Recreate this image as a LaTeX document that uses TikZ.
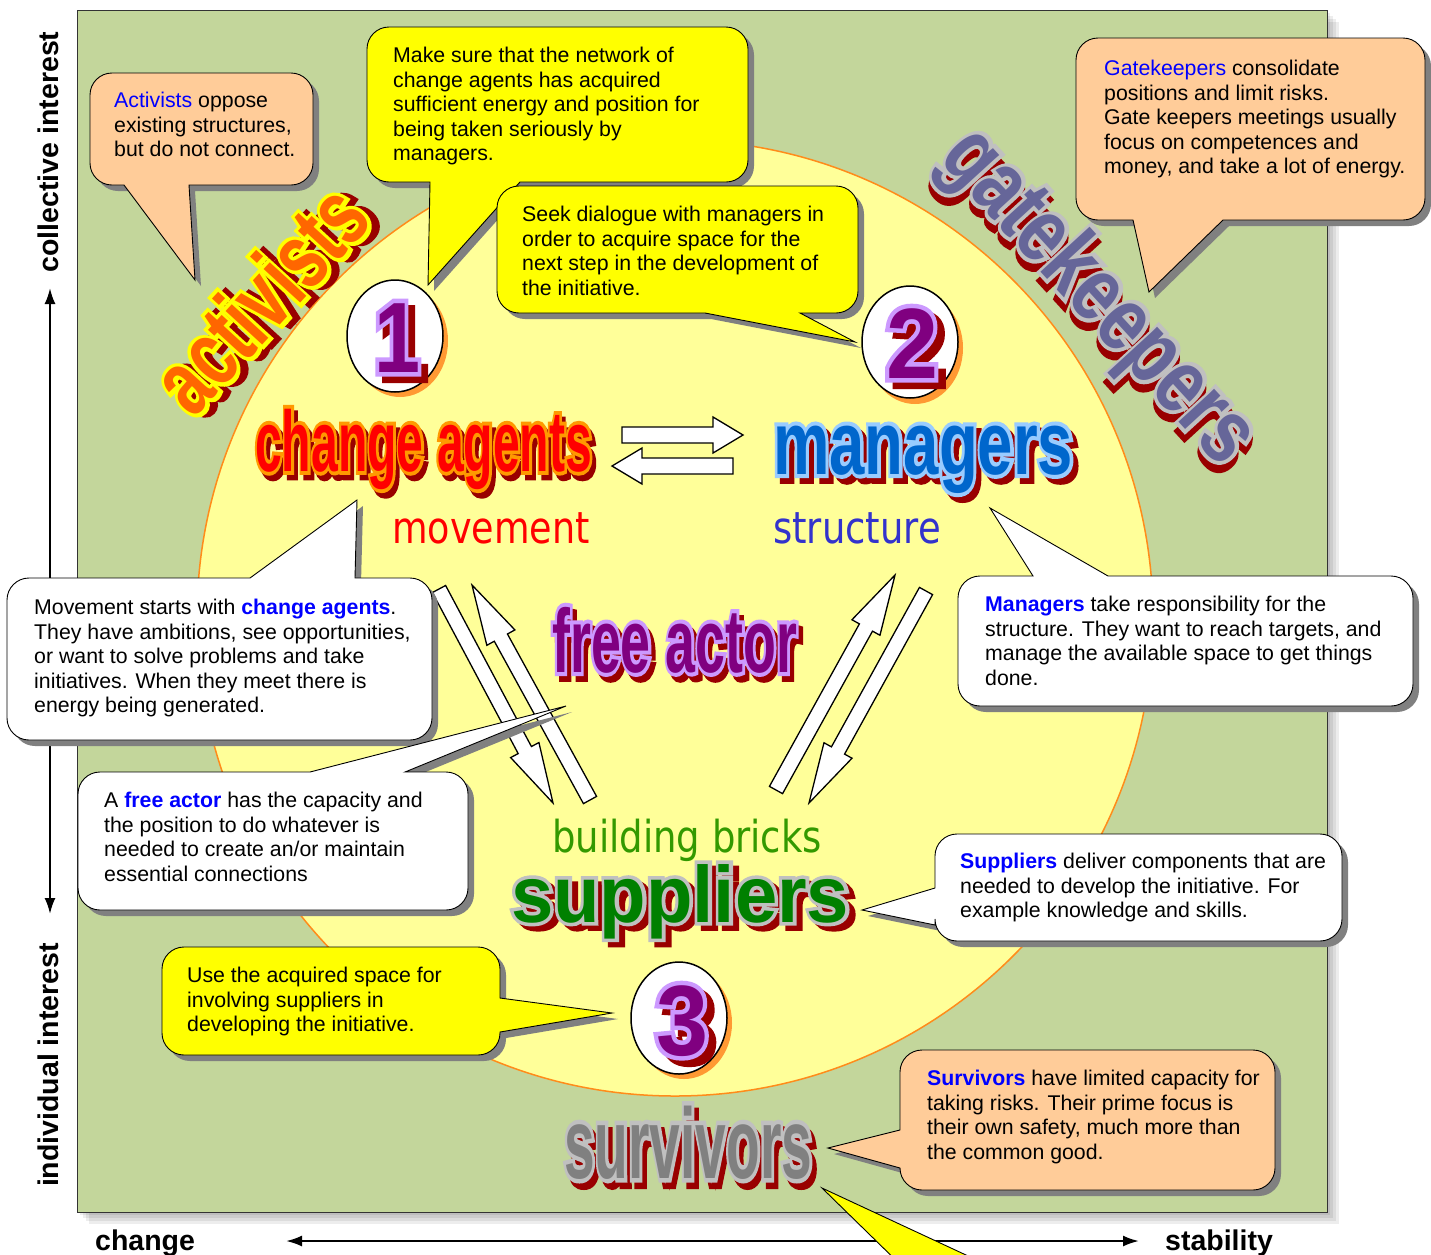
\documentclass[tikz,border=0pt]{standalone}
\usepackage{fontspec}
\usepackage{graphicx}
\usetikzlibrary{calc,arrows.meta,shapes.geometric}
\setmainfont{Liberation Sans}
\newfontfamily\waF{Liberation Sans}
\newfontfamily\waFO{Liberation Sans}[BoldFeatures={FakeBold=9}]
\newfontfamily\lblF{DejaVu Sans}

\definecolor{bggreen}{HTML}{C3D69B}
\definecolor{circfill}{HTML}{FFFF99}
\definecolor{circline}{HTML}{FF8C1A}
\definecolor{peach}{HTML}{FFCC99}
\definecolor{yel}{HTML}{FFFF00}
\definecolor{shgrey}{HTML}{808080}
\definecolor{wared}{HTML}{990000}
\definecolor{numshadow}{HTML}{FF9933}
\definecolor{hl}{HTML}{0000FF}
\definecolor{actF}{HTML}{FF6600}
\definecolor{actO}{HTML}{FFFF00}
\definecolor{chgF}{HTML}{FF0000}
\definecolor{chgO}{HTML}{FF9900}
\definecolor{manF}{HTML}{0066CC}
\definecolor{manO}{HTML}{99CCFF}
\definecolor{purF}{HTML}{800080}
\definecolor{purO}{HTML}{CC99FF}
\definecolor{supF}{HTML}{008000}
\definecolor{silO}{HTML}{C0C0C0}
\definecolor{surF}{HTML}{808080}
\definecolor{gateF}{HTML}{666699}
\definecolor{structC}{HTML}{3333CC}
\definecolor{brickC}{HTML}{339900}

% word-art text: width, size, fill, outline, text
\newcommand\WA[5]{%
  \resizebox{#1}{\height}{\fontsize{#2}{#2}\selectfont
    \rlap{\kern0.08em\raisebox{-0.065em}{\color{wared}\waFO\bfseries #5}}%
    \rlap{\color{#4}\waFO\bfseries #5}%
    {\color{#3}\waF\bfseries #5}}}

% callout: style, x1, y1, x2, y2, top insert, right insert, bottom insert, left insert
\newcommand\callout[9]{%
  \fill[shgrey,shift={(6,6)}] (#2+22,#3) #6 -- (#4-22,#3) arc[start angle=90,end angle=0,radius=22pt] #7 -- (#4,#5-22) arc[start angle=0,end angle=-90,radius=22pt] #8 -- (#2+22,#5) arc[start angle=-90,end angle=-180,radius=22pt] #9 -- (#2,#3+22) arc[start angle=180,end angle=90,radius=22pt] -- cycle;
  \filldraw[#1] (#2+22,#3) #6 -- (#4-22,#3) arc[start angle=90,end angle=0,radius=22pt] #7 -- (#4,#5-22) arc[start angle=0,end angle=-90,radius=22pt] #8 -- (#2+22,#5) arc[start angle=-90,end angle=-180,radius=22pt] #9 -- (#2,#3+22) arc[start angle=180,end angle=90,radius=22pt] -- cycle;
}

% block arrow: from, tip, shaft half width, head half width, head length
\newcommand\blockarrow[5]{%
  \coordinate (ba) at ($(#2)!#5!(#1)$);
  \filldraw[fill=white,draw=black,line width=1.3pt,line join=miter]
    ($(#1)!#3!90:(#2)$) -- ($(ba)!#3!90:(#2)$) -- ($(ba)!#4!90:(#2)$) -- (#2)
    -- ($(ba)!#4!-90:(#2)$) -- ($(ba)!#3!-90:(#2)$) -- ($(#1)!#3!-90:(#2)$) -- cycle;
}

\tikzset{
  txt/.style={inner sep=0pt, anchor=north west, align=left, font=\fontsize{21.3}{24.5}\selectfont},
  peachbox/.style={fill=peach, draw=black, line width=0.9pt, line join=miter},
  yelbox/.style={fill=yel, draw=black, line width=0.9pt, line join=miter},
  whitebox/.style={fill=white, draw=black, line width=0.9pt, line join=miter},
  axis/.style={line width=2.2pt, {Latex[length=16pt,width=11pt]}-{Latex[length=16pt,width=11pt]}},
  axislbl/.style={inner sep=0pt, font=\fontsize{28.5}{30}\selectfont\bfseries},
  lbl/.style={inner sep=0pt, anchor=base west, font=\lblF\fontsize{44}{48}\selectfont},
  wa/.style={inner sep=0pt},
  numell/.style={ellipse, minimum width=96pt, minimum height=112pt, inner sep=0pt},
}

\begin{document}
\begin{tikzpicture}[x=1pt,y=-1pt]
\useasboundingbox (0,0) rectangle (1431,1254);
\fill[white] (0,0) rectangle (1431,1254);

% background field with soft shadow
\foreach \s in {12,9,6,3}{
  \fill[black,opacity=0.07] (77+\s,10+\s) rectangle (1327+\s,1212+\s);
}
\filldraw[fill=bggreen,draw=black!80,line width=1pt] (77,10) rectangle (1327,1212);

% central circle
\node[circle, minimum size=956pt, inner sep=0pt, fill=circfill, draw=circline, line width=1.5pt] (field) at (675,618) {};

% axes
\coordinate (ytop) at (50,288);
\coordinate (ybot) at (50,914);
\draw[axis] (ybot) -- (ytop);
\coordinate (xleft) at (286,1241);
\coordinate (xright) at (1139,1241);
\draw[axis] (xleft) -- (xright);
\node[axislbl, rotate=90] (colint) at (48,152) {collective interest};
\node[axislbl, rotate=90] (indint) at (48,1065) {individual interest};
\node[axislbl, anchor=base west] (chg) at (95,1250) {change};
\node[axislbl, anchor=base west] (stab) at (1165,1250) {stability};

% bottom yellow pointer (cut off)
\filldraw[fill=yel,draw=black,line width=0.9pt] (822,1188) -- (911,1275) -- (1009,1275) -- cycle;

% numbered ellipses
\node[numell, fill=numshadow] (c1s) at (400,341) {};
\node[numell, fill=white, draw=black, line width=1.5pt] (c1) at (395,336) {};
\node[numell, fill=numshadow] (c2s) at (915,348) {};
\node[numell, fill=white, draw=black, line width=1.5pt] (c2) at (910,342) {};
\node[numell, fill=numshadow] (c3s) at (684,1023) {};
\node[numell, fill=white, draw=black, line width=1.5pt] (c3) at (679,1018) {};
\node[wa, anchor=base] (n1) at (397,372) {\WA{46pt}{100}{purF}{purO}{1}};
\node[wa, anchor=base] (n2) at (912,378) {\WA{52pt}{100}{purF}{purO}{2}};
\node[wa, anchor=base] (n3) at (682,1055) {\WA{52pt}{100}{purF}{purO}{3}};

% block arrows
\coordinate (h1a) at (622,435);
\coordinate (h1b) at (743,435);
\coordinate (h2a) at (733,466);
\coordinate (h2b) at (612,466);
\blockarrow{h1a}{h1b}{8pt}{18pt}{30pt}
\blockarrow{h2a}{h2b}{8pt}{18pt}{30pt}
\coordinate (la1) at (439,589);
\coordinate (la2) at (553,803);
\coordinate (lb1) at (590,800);
\coordinate (lb2) at (472,585);
\blockarrow{la1}{la2}{7.5pt}{16pt}{60pt}
\blockarrow{lb1}{lb2}{7.5pt}{16pt}{60pt}
\coordinate (rc1) at (776,790);
\coordinate (rc2) at (895,575);
\coordinate (rd1) at (926,591);
\coordinate (rd2) at (809,803);
\blockarrow{rc1}{rc2}{7.5pt}{16pt}{60pt}
\blockarrow{rd1}{rd2}{7.5pt}{16pt}{60pt}

% word art
\node[wa, rotate=47.5] (wact) at (262,300) {\WA{268pt}{94}{actF}{actO}{activists}};
\node[wa, rotate=-47.5] (wgate) at (1095,300) {\WA{420pt}{92}{gateF}{silO}{gatekeepers}};
\node[wa, anchor=base west] (wchg) at (255,471) {\WA{337pt}{86}{chgF}{chgO}{change agents}};
\node[wa, anchor=base west] (wman) at (773,474) {\WA{300pt}{90}{manF}{manO}{managers}};
\node[wa, anchor=base west] (wfree) at (552,672) {\WA{245pt}{90}{purF}{purO}{free actor}};
\node[wa, anchor=base west] (wsup) at (511,922) {\WA{338pt}{80}{supF}{silO}{suppliers}};
\node[wa, anchor=base west] (wsur) at (564,1178) {\WA{248pt}{100}{surF}{silO}{survivors}};

% plain labels
\node[lbl, text=red] (lmove) at (392,543) {\scalebox{0.83}[1]{movement}};
\node[lbl, text=structC] (lstruct) at (773,543) {\scalebox{0.84}[1]{structure}};
\node[lbl, text=brickC] (lbrick) at (552,852) {\scalebox{0.84}[1]{building bricks}};

% callouts
\callout{peachbox}{90}{73}{313}{185}{}{}{-- (189,185) -- (195,280) -- (124,185)}{}
\node[txt] (tact) at (114,92) {\textcolor{hl}{Activists} oppose\\existing structures,\\but do not connect.};

\callout{yelbox}{367}{27}{748}{182}{}{}{-- (520,182) -- (428,285) -- (430,182)}{}
\begin{scope}
\clip (367,27) rectangle (748,164);
\node[txt] (tmake) at (393,47) {Make sure that the network of\\change agents has acquired\\sufficient energy and position for\\being taken seriously by\\managers.};
\end{scope}

\callout{yelbox}{497}{186}{858}{313}{}{}{-- (800,313) -- (855,342) -- (705,313)}{}
\node[txt] (tseek) at (522,206) {Seek dialogue with managers in\\order to acquire space for the\\next step in the development of\\the initiative.};

\callout{peachbox}{1076}{38}{1425}{220}{}{}{-- (1223,220) -- (1149,292) -- (1133,220)}{}
\node[txt] (tgate) at (1104,60) {\textcolor{hl}{Gatekeepers} consolidate\\positions and limit risks.\\Gate keepers meetings usually\\focus on competences and\\money, and take a lot of energy.};

\callout{whitebox}{7}{578}{432}{740}{-- (250,578) -- (357,500) -- (355,578)}{}{}{}
\node[txt] (tmove) at (34,599) {Movement starts with \textbf{\textcolor{hl}{change agents}}.\\They have ambitions, see opportunities,\\or want to solve problems and take\\initiatives. When they meet there is\\energy being generated.};

\callout{whitebox}{78}{772}{468}{910}{-- (310,772) -- (566,706) -- (405,772)}{}{}{}
\node[txt] (tfree) at (104,792) {A \textbf{\textcolor{hl}{free actor}} has the capacity and\\the position to do whatever is\\needed to create an/or maintain\\essential connections};

\callout{whitebox}{958}{576}{1413}{706}{-- (1033,576) -- (990,508) -- (1108,576)}{}{}{}
\node[txt] (tman) at (985,596) {\textbf{\textcolor{hl}{Managers}} take responsibility for the\\structure. They want to reach targets, and\\manage the available space to get things\\done.};

\callout{whitebox}{935}{834}{1342}{941}{}{}{}{-- (935,925) -- (862,910) -- (935,888)}
\node[txt] (tsup) at (960,853) {\textbf{\textcolor{hl}{Suppliers}} deliver components that are\\needed to develop the initiative. For\\example knowledge and skills.};

\callout{yelbox}{162}{947}{500}{1055}{}{-- (500,998) -- (612,1013) -- (500,1032)}{}{}
\node[txt] (tuse) at (187,967) {Use the acquired space for\\involving suppliers in\\developing the initiative.};

\callout{peachbox}{900}{1050}{1275}{1190}{}{}{}{-- (900,1168) -- (828,1148) -- (900,1130)}
\node[txt] (tsurv) at (927,1070) {\textbf{\textcolor{hl}{Survivors}} have limited capacity for\\taking risks. Their prime focus is\\their own safety, much more than\\the common good.};

\end{tikzpicture}
\end{document}
